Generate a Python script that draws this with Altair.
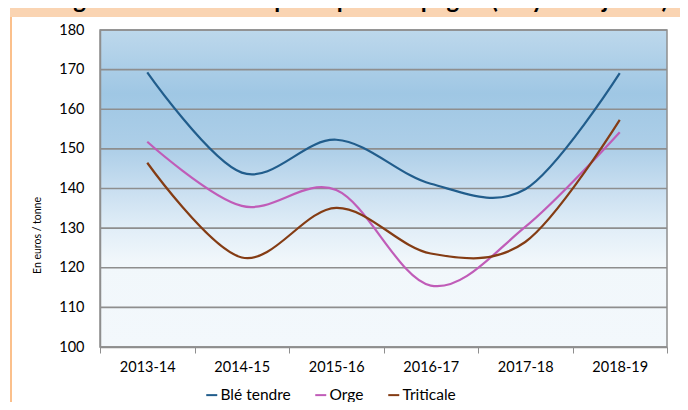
import altair as alt
import pandas as pd

campagnes = ["2013-14", "2014-15", "2015-16", "2016-17", "2017-18", "2018-19"]
ble_tendre = [169.3, 144.0, 152.3, 141.2, 139.8, 169.1]
orge = [151.8, 135.6, 139.6, 115.5, 130.3, 154.2]
triticale = [146.5, 122.6, 135.1, 123.6, 126.5, 157.3]
series = ["Blé tendre", "Orge", "Triticale"]
colors = ["#215D8C", "#C05CB8", "#843C14"]
y_ticks = [100, 110, 120, 130, 140, 150, 160, 170, 180]
titre = "Évolution des prix moyens des grandes céréales à paille par campagne (moyenne juillet)"
y_title = "En euros / tonne"

W, H = 567, 317
FONT = "Lato"

rows = []
for name, vals in zip(series, [ble_tendre, orge, triticale]):
    for c, v in zip(campagnes, vals):
        rows.append({"campagne": c, "prix": v, "serie": name})
df = pd.DataFrame(rows)
one = pd.DataFrame({"k": [0]})
grid_df = pd.DataFrame({"prix": y_ticks})

yscale = alt.Scale(domain=[100, 180], nice=False, zero=False)
y_axis = alt.Axis(
    values=y_ticks, title=y_title, ticks=False, grid=False,
    domainColor="#8E8E8E", domainWidth=1.5,
    labelFont=FONT, labelFontSize=14.5, labelColor="#000000", labelPadding=16,
    titleFont=FONT, titleFontSize=10.5, titleFontWeight="normal",
    titleColor="#000000", titleX=-58, titleY=205, zindex=1,
)

band = alt.Chart(one).mark_rect(fill="#FAD4B2").encode(
    x=alt.value(-90), x2=alt.value(580), y=alt.value(-22), y2=alt.value(-13)
)
border_l = alt.Chart(one).mark_rect(fill="#FBC08C").encode(
    x=alt.value(-90), x2=alt.value(-88), y=alt.value(-13), y2=alt.value(372)
)
title = alt.Chart(one).mark_text(
    text=titre, align="right", baseline="alphabetic", font=FONT,
    fontSize=24, fontWeight="bold", color="#000000"
).encode(x=alt.value(568), y=alt.value(-22))

grad = alt.Gradient(
    gradient="linear",
    stops=[
        alt.GradientStop(color="#BDD8EC", offset=0),
        alt.GradientStop(color="#9FC7E4", offset=0.2),
        alt.GradientStop(color="#AECFE8", offset=0.38),
        alt.GradientStop(color="#C8DEF0", offset=0.5),
        alt.GradientStop(color="#E0EDF7", offset=0.62),
        alt.GradientStop(color="#F1F7FB", offset=0.73),
        alt.GradientStop(color="#F3F8FC", offset=1),
    ],
    x1=0, x2=0, y1=0, y2=1,
)
plotbg = alt.Chart(one).mark_rect(fill=grad, stroke="#8E8E8E", strokeWidth=1.5).encode(
    x=alt.value(0), x2=alt.value(W), y=alt.value(0), y2=alt.value(H)
)

grid = alt.Chart(grid_df).mark_rule(color="#8E8E8E", strokeWidth=1.6).encode(
    y=alt.Y("prix:Q", scale=yscale, axis=y_axis),
    x=alt.value(0), x2=alt.value(W),
)

lines = alt.Chart(df).mark_line(interpolate="cardinal", tension=0, strokeWidth=2.2).encode(
    x=alt.X(
        "campagne:N", sort=campagnes, bandPosition=0.5,
        scale=alt.Scale(type="band", paddingInner=0, paddingOuter=0),
        axis=alt.Axis(
            title=None, labelAngle=0, tickBand="extent", tickSize=6,
            tickColor="#8E8E8E", domainColor="#8E8E8E", domainWidth=1.5,
            labelFont=FONT, labelFontSize=14.5, labelColor="#000000",
            labelPadding=7, grid=False, zindex=1,
        ),
    ),
    y=alt.Y("prix:Q", scale=yscale, axis=y_axis),
    color=alt.Color(
        "serie:N", sort=series,
        scale=alt.Scale(domain=series, range=colors),
        legend=alt.Legend(
            title=None, orient="none", direction="horizontal",
            legendX=104, legendY=357, symbolType="stroke", symbolSize=121,
            symbolStrokeWidth=2, labelOffset=1, columnPadding=20,
            labelFont=FONT, labelFontSize=15.5, labelColor="#000000", padding=0,
        ),
    ),
    order=alt.Order("ordre:Q"),
).transform_calculate(ordre="indexof(" + str(campagnes) + ", datum.campagne)")

chart = alt.layer(band, border_l, title, plotbg, grid, lines).properties(
    width=W, height=H,
    padding={"left": 92, "top": 22, "right": 13, "bottom": 55},
    autosize=alt.AutoSizeParams(type="none"),
    background="#FFFFFF",
).configure_view(stroke=None)

chart.save("out.html", embed_options={"renderer": "svg", "actions": False})
